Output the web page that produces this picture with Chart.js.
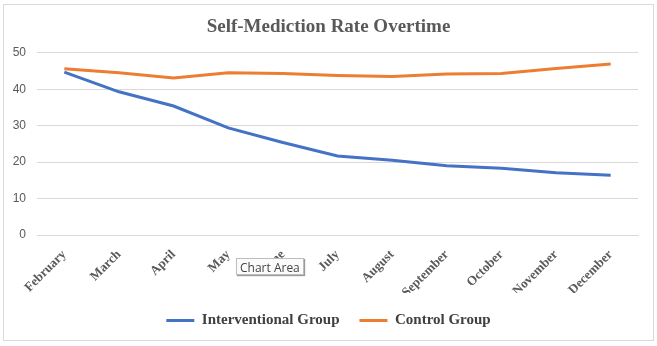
<!DOCTYPE html>
<html>
<head>
<meta charset="utf-8">
<script src="https://cdn.jsdelivr.net/npm/chart.js@4/dist/chart.umd.min.js"></script>
<style>
  body { margin: 0; background: #fff; }
  #wrap { position: relative; width: 657px; height: 346px; }
  #frame { position: absolute; left: 3px; top: 4px; width: 649px; height: 335px; border: 1px solid #d9d9d9; pointer-events: none; }
  #tip { position: absolute; left: 236px; top: 258px; height: 15px; padding: 0 3px; line-height: 15px;
         border: 1px solid #bdbdbd; background: #fbfbfb; box-shadow: 1px 1px 1px #9a9a9a;
         font: 12px "Open Sans", "Noto Sans", sans-serif; color: #444; white-space: nowrap; }
</style>
</head>
<body>
<div id="wrap">
  <canvas id="chart" width="657" height="346"></canvas>
  <div id="frame"></div>
  <div id="tip">Chart Area</div>
</div>
<script>
const months = ['February', 'March', 'April', 'May', 'June', 'July', 'August', 'September', 'October', 'November', 'December'];
const interventional = [44.7, 39.3, 35.4, 29.4, 25.4, 21.7, 20.5, 19.0, 18.3, 17.1, 16.4];
const control = [45.6, 44.5, 43.1, 44.5, 44.3, 43.8, 43.5, 44.2, 44.3, 45.7, 46.9];
const yTicks = [0, 10, 20, 30, 40, 50];

const serif = '"Liberation Serif", "Times New Roman", serif';
const ctx = document.querySelector('#chart').getContext('2d');

new Chart(ctx, {
    type: 'line',
    data: {
        labels: months,
        datasets: [{
            label: 'Interventional Group',
            data: interventional,
            borderColor: '#4472C4',
            backgroundColor: '#4472C4',
            borderWidth: 3,
            pointRadius: 0,
            tension: 0
        }, {
            label: 'Control Group',
            data: control,
            borderColor: '#ED7D31',
            backgroundColor: '#ED7D31',
            borderWidth: 3,
            pointRadius: 0,
            tension: 0
        }]
    },
    options: {
        responsive: false,
        animation: false,
        layout: { padding: { left: 0, right: 0, top: 0, bottom: 8 } },
        plugins: {
            title: {
                display: true,
                text: 'Self-Mediction Rate Overtime',
                color: '#595959',
                font: { family: serif, size: 19, weight: 'bold' },
                padding: { top: 16, bottom: 14 }
            },
            legend: {
                position: 'bottom',
                labels: {
                    usePointStyle: true,
                    pointStyle: 'line',
                    pointStyleWidth: 28,
                    padding: 20,
                    color: '#404040',
                    font: { family: serif, size: 15, weight: 'bold' }
                }
            },
            tooltip: { enabled: false }
        },
        scales: {
            x: {
                offset: true,
                grid: { display: false },
                border: { color: '#d9d9d9' },
                ticks: {
                    autoSkip: false,
                    minRotation: 45,
                    maxRotation: 45,
                    padding: 4,
                    color: '#595959',
                    font: { family: serif, size: 13, weight: 'bold' }
                },
                afterFit: (scale) => { scale.height = 58; }
            },
            y: {
                min: 0,
                max: 50,
                afterBuildTicks: (scale) => { scale.ticks = yTicks.map(v => ({ value: v })); },
                grid: { color: '#d9d9d9', drawTicks: false },
                border: { display: false },
                ticks: {
                    padding: 11,
                    color: '#595959',
                    font: { family: '"Liberation Sans", Arial, sans-serif', size: 12 }
                },
                afterFit: (scale) => { scale.width = 37; }
            },
            // empty right margin so the title and legend centre on the whole page
            spacer: {
                position: 'right',
                grid: { display: false },
                border: { display: false },
                ticks: { display: false },
                afterFit: (scale) => { scale.width = 19; }
            }
        }
    }
});
</script>
</body>
</html>
